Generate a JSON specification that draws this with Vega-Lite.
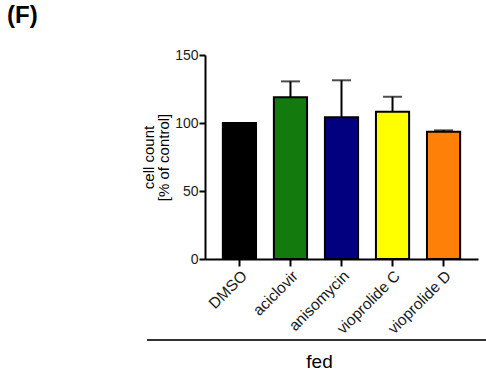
{
  "$schema": "https://vega.github.io/schema/vega-lite/v6.json",
  "width": 273,
  "height": 204,
  "autosize": {"type": "none"},
  "padding": {"left": 205, "top": 55, "right": 8, "bottom": 112},
  "title": {"text": "(F)", "anchor": "start", "frame": "group", "dx": -198, "offset": 20, "fontSize": 24, "fontWeight": "bold", "font": "Liberation Sans", "color": "black"},
  "config": {"view": {"stroke": null}, "font": "Liberation Sans"},
  "datasets": {
    "bars": [
      {"drug": "DMSO", "mean": 100, "hi": 100},
      {"drug": "aciclovir", "mean": 118.9, "hi": 130.6},
      {"drug": "anisomycin", "mean": 104.2, "hi": 131.4},
      {"drug": "vioprolide C", "mean": 108.3, "hi": 119.3},
      {"drug": "vioprolide D", "mean": 93.6, "hi": 94.6}
    ],
    "line": [{"from": -0.2125, "to": 1.0293, "level": -59.6}]
  },
  "layer": [
    {
      "data": {"name": "bars"},
      "encoding": {
        "x": {
          "field": "drug", "type": "nominal", "sort": null,
          "scale": {"paddingInner": 0.35, "paddingOuter": 0.35},
          "axis": {
            "labelAngle": -45, "labelFontSize": 15.5, "labelColor": "#1a1a1a", "labelPadding": 2,
            "tickSize": 7, "tickWidth": 2, "tickColor": "black",
            "domainWidth": 2, "domainColor": "black",
            "title": "fed", "titleFontSize": 19, "titleFontWeight": "normal", "titleColor": "black",
            "titlePadding": 16, "titleX": 114
          }
        }
      },
      "layer": [
        {
          "mark": {"type": "bar", "stroke": "black", "strokeWidth": 2},
          "encoding": {
            "y": {
              "field": "mean", "type": "quantitative",
              "scale": {"domain": [0, 150], "nice": false},
              "axis": {
                "values": [0, 50, 100, 150], "grid": false,
                "labelFontSize": 14, "labelColor": "#1a1a1a", "labelPadding": 1,
                "tickSize": 6, "tickWidth": 2, "tickColor": "black",
                "domainWidth": 2, "domainColor": "black",
                "title": ["cell count", "[% of control]"], "titleFontSize": 15, "titleFontWeight": "normal", "titleColor": "black", "titlePadding": 3, "titleLineHeight": 15
              }
            },
            "color": {
              "field": "drug", "type": "nominal", "sort": null, "legend": null,
              "scale": {"domain": ["DMSO", "aciclovir", "anisomycin", "vioprolide C", "vioprolide D"], "range": ["#000000", "#137B0E", "#02007E", "#FFFF00", "#FF8008"]}
            }
          }
        },
        {
          "mark": {"type": "rule", "color": "black", "strokeWidth": 2},
          "encoding": {
            "y": {"field": "mean", "type": "quantitative"},
            "y2": {"field": "hi"}
          }
        },
        {
          "mark": {"type": "tick", "color": "black", "thickness": 2, "size": 19},
          "encoding": {
            "y": {"field": "hi", "type": "quantitative"}
          }
        }
      ]
    },
    {
      "data": {"name": "line"},
      "mark": {"type": "rule", "color": "#333", "strokeWidth": 2},
      "encoding": {
        "x": {"field": "from", "type": "quantitative", "scale": {"domain": [0, 1], "nice": false, "zero": false}, "axis": null},
        "x2": {"field": "to"},
        "y": {"field": "level", "type": "quantitative", "scale": {"domain": [0, 150], "nice": false}, "axis": null}
      }
    }
  ],
  "resolve": {"scale": {"x": "independent"}, "axis": {"y": "independent"}}
}
